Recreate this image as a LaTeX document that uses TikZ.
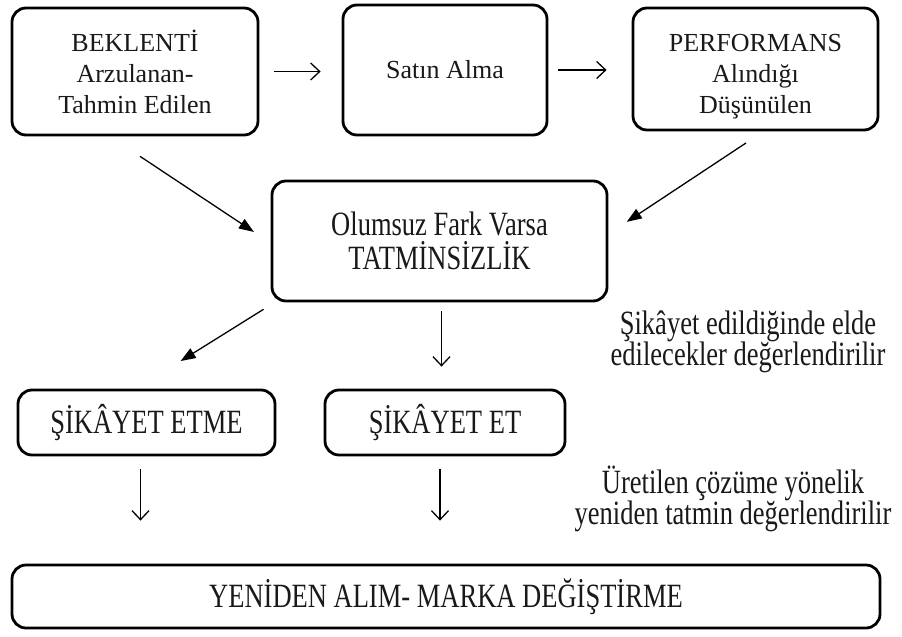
\documentclass[tikz,border=0pt]{standalone}
\usepackage{fontspec}
\setmainfont{Liberation Serif}
\newfontfamily\tallfont{Liberation Serif}[FakeStretch=0.78]
\usetikzlibrary{arrows.meta,calc}
\tikzset{
  box/.style={draw=black, line width=2.8pt, rounded corners=14pt, inner sep=0pt, align=center, text=black!90},
  topfont/.style={font=\fontsize{26}{31}\selectfont},
  lowfont/.style={font=\tallfont\fontsize{34}{34}\selectfont},
  notefont/.style={font=\tallfont\fontsize{34}{31}\selectfont, align=center, text=black!90},
  openarr/.style={line width=1.3pt, -{Straight Barb[length=9pt,width=17pt,line width=1.3pt]}},
  fillarr/.style={line width=1.3pt, -{Triangle[length=15pt,width=11pt]}}
}
\begin{document}
\begin{tikzpicture}[x=1pt,y=-1pt]
\useasboundingbox (0,0) rectangle (902,637);
\fill[white] (0,0) rectangle (902,637);
% top row
\node[box,topfont,minimum width=246pt,minimum height=127pt] (b1) at (135,71.5) {BEKLENTİ\\Arzulanan-\\Tahmin Edilen};
\node[box,topfont,minimum width=204pt,minimum height=130pt] (b2) at (445,70) {Satın Alma};
\node[box,topfont,minimum width=245pt,minimum height=122pt] (b3) at (755.5,69) {\rule{0pt}{32pt}PERFORMANS\\Alındığı\\Düşünülen};
% middle
\node[box,lowfont,minimum width=335pt,minimum height=120pt] (mid) at (439.5,241) {Olumsuz Fark Varsa\\TATMİNSİZLİK};
% lower row
\node[box,lowfont,minimum width=257pt,minimum height=65pt] (etme) at (146.5,422.5) {ŞİKÂYET ETME};
\node[box,lowfont,minimum width=240pt,minimum height=65pt] (et) at (445,422.5) {ŞİKÂYET ET};
\node[box,lowfont,minimum width=868pt,minimum height=63pt] (bot) at (446,596.5) {YENİDEN ALIM- MARKA DEĞİŞTİRME};
% notes
\node[notefont] (n1) at (748,342) {Şikâyet edildiğinde elde\\edilecekler değerlendirilir};
\node[notefont] (n2) at (733,499) {Üretilen çözüme yönelik\\yeniden tatmin değerlendirilir};
% connector end points
\coordinate (s1) at ($(b1.south)+(-25,0)$);
\coordinate (e1) at ($(mid.west)+(0,2)$);
\coordinate (s2) at ($(b3.south)+(8,0)$);
\coordinate (e2) at ($(mid.east)+(0,-7)$);
\coordinate (s3) at ($(mid.south west)+(4,0)$);
\coordinate (e3) at ($(etme.north)+(-10,0)$);
\coordinate (s4) at ($(mid.south)+(2,0)$);
\coordinate (s5) at ($(etme.south)+(-6,0)$);
\coordinate (s6) at ($(et.south)+(-5,0)$);
% connectors
\draw[openarr, shorten <=15pt, shorten >=21pt] (b1.east) -- (b1.east -| b2.west);
\draw[openarr, shorten <=10pt, shorten >=25pt] (b2.east) -- (b2.east -| b3.west);
\draw[fillarr, shorten <=36pt, shorten >=20pt] (s1) -- (e1);
\draw[fillarr, shorten <=21pt, shorten >=22pt] (s2) -- (e2);
\draw[fillarr, shorten <=13pt, shorten >=52pt] (s3) -- (e3);
\draw[openarr, shorten <=9pt, shorten >=22pt] (s4) -- (s4 |- et.north);
\draw[openarr, shorten <=13pt, shorten >=43pt] (s5) -- (s5 |- bot.north);
\draw[openarr, shorten <=13pt, shorten >=43pt] (s6) -- (s6 |- bot.north);
\end{tikzpicture}
\end{document}
